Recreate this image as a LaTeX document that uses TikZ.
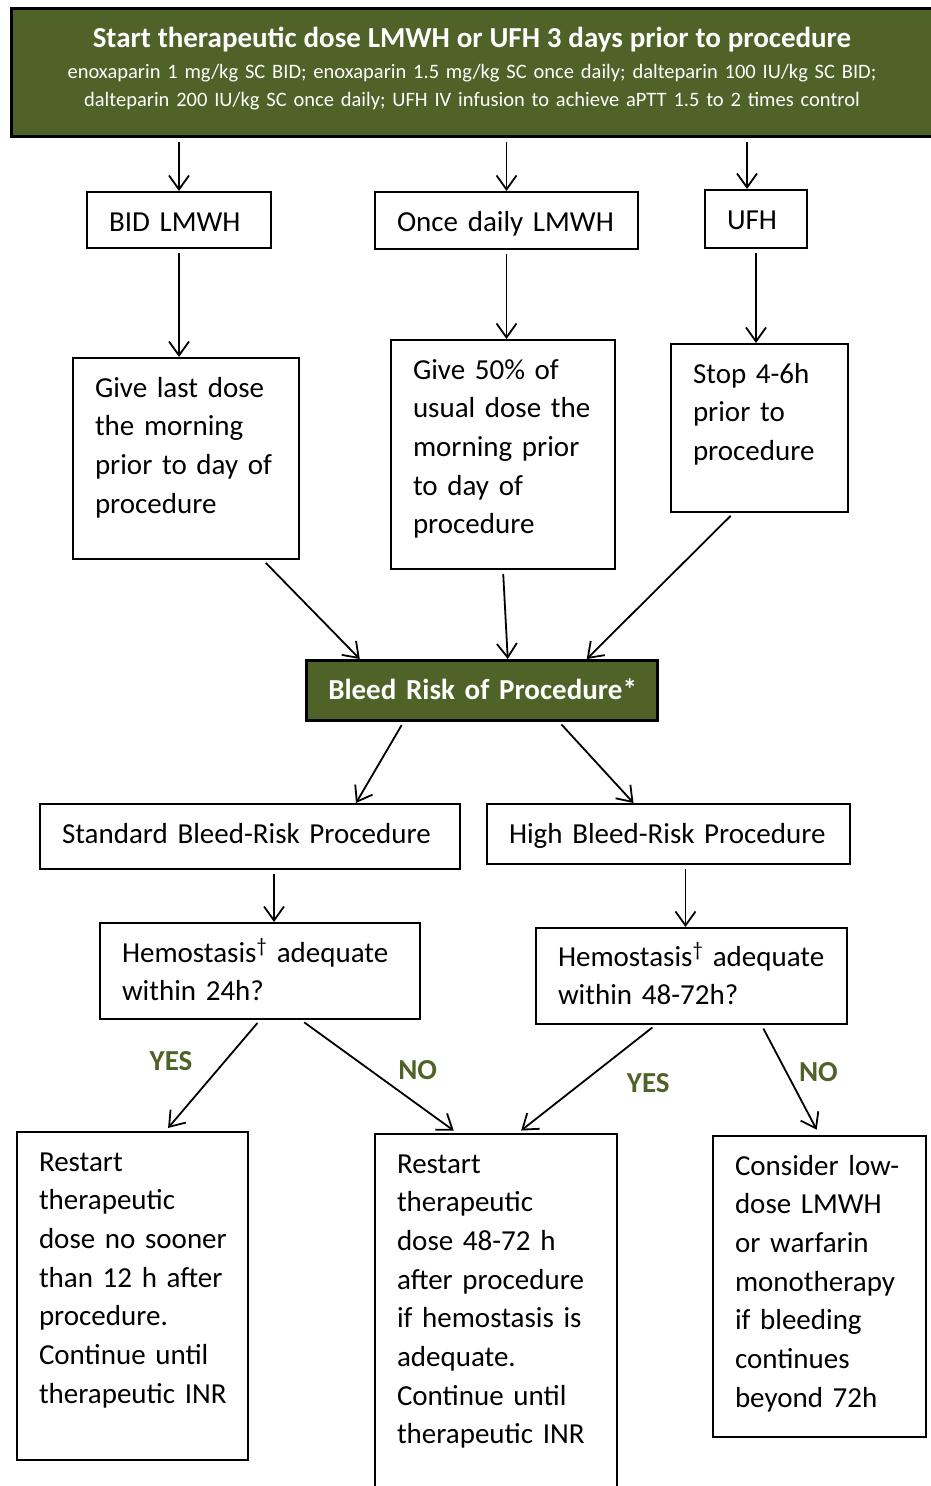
\documentclass[tikz,border=0pt]{standalone}
\usepackage{fontspec}
\setmainfont{Carlito}
\usetikzlibrary{arrows.meta}
\definecolor{olivegreen}{RGB}{79,98,40}
\hyphenpenalty=10000

\begin{document}
\begin{tikzpicture}[x=1pt,y=-1pt,
		box/.style={draw, line width=2pt, anchor=north west, inner xsep=22pt, inner ysep=0pt,
			align=left, text height=39pt, font=\fontsize{29}{38.7}\selectfont},
		greenbox/.style={box, fill=olivegreen, text=white},
		arr/.style={line width=1.8pt, -{Straight Barb[length=14pt,width=20pt]}, shorten <=4pt},
		yesno/.style={text=olivegreen, font=\fontsize{29}{30}\selectfont\bfseries}]
		\useasboundingbox (0,0) rectangle (931,1486);
		\clip (0,0) rectangle (931,1486);
		% top banner
		\node[greenbox, line width=3pt, align=center, text width=877pt, text depth=89pt,
			font=\fontsize{20.5}{28}\selectfont] (start) at (10,7)
			{{\fontsize{29}{35}\selectfont\bfseries Start therapeutic dose LMWH or UFH 3 days prior to procedure}\\[3pt]
			enoxaparin 1 mg/kg SC BID; enoxaparin 1.5 mg/kg SC once daily; dalteparin 100 IU/kg SC BID;\\
			dalteparin 200 IU/kg SC once daily; UFH IV infusion to achieve aPTT 1.5 to 2 times control};
		% three regimens
		\node[box, text width=140pt, text depth=17pt] (bid) at (86,191) {BID LMWH};
		\node[box, text width=219pt, text depth=18pt] (once) at (374,191) {Once daily LMWH};
		\node[box, text width=58pt, text depth=19pt] (ufh) at (704,189) {UFH};
		\node[box, text width=182pt, text depth=162pt] (lastdose) at (72,357)
			{Give last dose\\the morning\\prior~to~day~of\\procedure};
		\node[box, text width=180pt, text depth=190pt] (half) at (390,339)
			{Give 50\% of\\usual~dose~the\\morning prior\\to day of\\procedure};
		\node[box, text width=133pt, text depth=129pt] (stop) at (670,343)
			{Stop 4-6h\\prior to\\procedure};
		% bleed risk
		\node[greenbox, line width=2.5pt, text width=307pt, text depth=21pt, font=\fontsize{29}{35}\selectfont\bfseries]
			(bleed) at (305,659) {\mbox{Bleed Risk of Procedure*}};
		\node[box, text width=376pt, text depth=26pt] (std) at (39,803) {Standard Bleed-Risk Procedure};
		\node[box, text width=319pt, text depth=21pt] (high) at (486,803) {High Bleed-Risk Procedure};
		\node[box, text width=276pt, text depth=57pt] (hemoA) at (99,922)
			{Hemostasis\textsuperscript{†} adequate\\within 24h?};
		\node[box, text width=267pt, text depth=58pt, text height=38pt] (hemoB) at (535,927)
			{Hemostasis\textsuperscript{†} adequate\\within 48-72h?};
		% restart
		\node[box, text width=187pt, text depth=289pt] (restartA) at (16,1131)
			{Restart\\therapeutic\\dose~no~sooner\\than~12~h~after\\procedure.\\Continue~until\\therapeutic~INR};
		\node[box, text width=198pt, text depth=341pt] (restartB) at (374,1133)
			{Restart\\therapeutic\\dose 48-72 h\\after~procedure\\if~hemostasis~is\\adequate.\\Continue until\\therapeutic~INR};
		\node[box, text width=169pt, text depth=262pt] (consider) at (712,1135)
			{Consider~low-\\dose LMWH\\or warfarin\\monotherapy\\if bleeding\\continues\\beyond 72h};
		% arrows
		\draw[arr] (start.south -| bid.north) -- (bid.north);
		\draw[arr] (start.south -| once.north) -- (once.north);
		\draw[arr] ([xshift=-9pt]ufh.north |- start.south) -- ([xshift=-9pt]ufh.north);
		\draw[arr] (bid.south) -- (bid.south |- lastdose.north);
		\draw[arr] (once.south) -- (once.south |- half.north);
		\draw[arr] (ufh.south) -- (ufh.south |- stop.north);
		\draw[arr] ([xshift=77pt]lastdose.south) -- ([xshift=-122pt]bleed.north);
		\draw[arr] (half.south) -- ([xshift=26pt]bleed.north);
		\draw[arr] ([xshift=-26pt]stop.south) -- ([xshift=105pt]bleed.north);
		\draw[arr] ([xshift=-78pt]bleed.south) -- ([xshift=106pt]std.north);
		\draw[arr] ([xshift=77pt]bleed.south) -- ([xshift=-35pt]high.north);
		\draw[arr] ([xshift=24pt]std.south) -- ([xshift=24pt]std.south |- hemoA.north);
		\draw[arr] ([xshift=17pt]high.south) -- ([xshift=17pt]high.south |- hemoB.north);
		\draw[arr, shorten >=4pt] (hemoA.south) -- node[yesno, pos=.37, xshift=-54pt] {YES} ([xshift=33pt]restartA.north);
		\draw[arr, shorten >=4pt] ([xshift=41pt]hemoA.south) -- node[yesno, pos=.44, xshift=48pt] {NO} ([xshift=-39pt]restartB.north);
		\draw[arr, shorten >=4pt] ([xshift=-36pt]hemoB.south) -- node[yesno, pos=.54, xshift=67pt] {YES} ([xshift=22pt]restartB.north);
		\draw[arr, shorten >=6pt] ([xshift=70pt]hemoB.south) -- node[yesno, pos=.43, xshift=32pt] {NO} (consider.north);
	\end{tikzpicture}
\end{document}
